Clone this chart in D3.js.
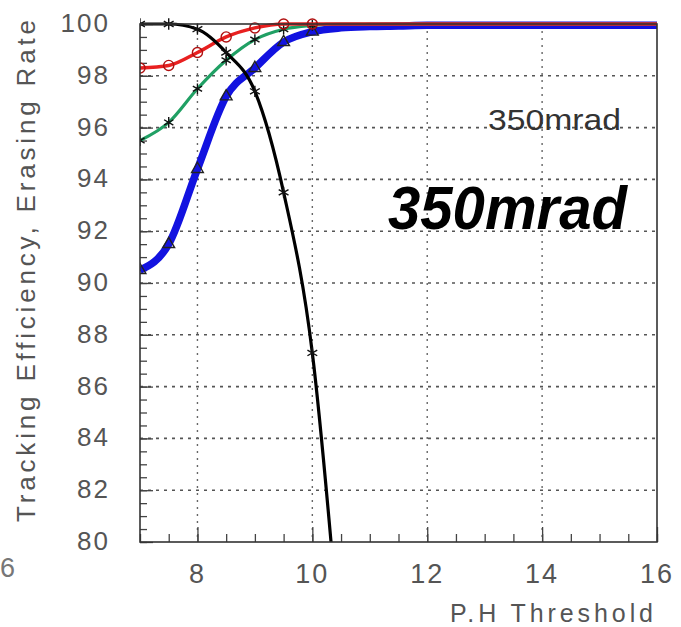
<!DOCTYPE html>
<html>
<head>
<meta charset="utf-8">
<script src="https://cdn.jsdelivr.net/npm/d3@7"></script>
<style>
  html, body { margin: 0; padding: 0; background: #fff; }
  svg { display: block; }
  text { font-family: "Liberation Sans", Arial, sans-serif; }
</style>
</head>
<body>
<svg id="chart" width="681" height="627"></svg>
<script>
// P.H threshold scan points
const thresholds = [7, 7.5, 8, 8.5, 9, 9.5, 10, 10.5, 11, 11.5, 12, 13, 14, 15, 16];
// tracking efficiency for the three settings (%)
const effRed   = [98.3, 98.4, 98.9, 99.5, 99.85, 100, 100, 100, 100, 100, 100, 100, 100, 100, 100];
const effGreen = [95.5, 96.2, 97.5, 98.6, 99.4, 99.8, 99.95, 100, 100, 100, 100, 100, 100, 100, 100];
const effBlue  = [90.5, 91.5, 94.4, 97.2, 98.3, 99.3, 99.7, 99.85, 99.9, 99.92, 99.95, 99.95, 99.95, 99.95, 99.95];
// erasing rate (%)
const eraseX   = [7, 7.5, 8, 8.5, 9, 9.5, 10, 10.5];
const eraseVal = [100, 100, 99.8, 98.9, 97.4, 93.5, 87.3, 75.5];

const xTicks = [8, 10, 12, 14, 16];
const yTicks = [80, 82, 84, 86, 88, 90, 92, 94, 96, 98, 100];
const xTitle = "P.H Threshold";
const yTitle = "Tracking Efficiency, Erasing Rate";
const note = "350mrad";

const svg = d3.select("#chart");
const L = 140, R = 657, T = 24, B = 542;
const markerMaxX = 10;   // markers beyond this sit under the 100% frame line

const x = d3.scaleLinear().domain([7, 16]).range([L, R]);
const y = d3.scaleLinear().domain([80, 100]).range([B, T]);

// dotted grid at major ticks
const grid = svg.append("g");
grid.selectAll("line.h").data(yTicks.filter(v => v > 80 && v < 100)).join("line")
  .attr("x1", L).attr("x2", R).attr("y1", d => y(d)).attr("y2", d => y(d))
  .attr("stroke", "#555").attr("stroke-width", 1.6).attr("stroke-dasharray", "3,5");
grid.selectAll("line.v").data(xTicks.filter(v => v < 16)).join("line")
  .attr("y1", T).attr("y2", B).attr("x1", d => x(d)).attr("x2", d => x(d))
  .attr("stroke", "#666").attr("stroke-width", 1.4).attr("stroke-dasharray", "2,5");

// axes with inward ticks (minor every 0.5)
const yMinor = d3.range(80, 100.01, 0.5);
const xMinor = d3.range(7, 16.01, 0.5);
svg.append("g").attr("transform", `translate(${L},0)`)
  .call(d3.axisRight(y).tickValues(yMinor).tickSize(7).tickFormat(""))
  .call(g => g.select(".domain").remove())
  .call(g => g.selectAll("line").attr("stroke", "#444").attr("stroke-width", 1.3));
svg.append("g").attr("transform", `translate(${L},0)`)
  .call(d3.axisRight(y).tickValues(yTicks).tickSize(13).tickFormat(""))
  .call(g => g.select(".domain").remove())
  .call(g => g.selectAll("line").attr("stroke", "#444").attr("stroke-width", 1.3));
svg.append("g").attr("transform", `translate(0,${B})`)
  .call(d3.axisTop(x).tickValues(xMinor).tickSize(8).tickFormat(""))
  .call(g => g.select(".domain").remove())
  .call(g => g.selectAll("line").attr("stroke", "#444").attr("stroke-width", 1.3));
svg.append("g").attr("transform", `translate(0,${B})`)
  .call(d3.axisTop(x).tickValues(xTicks).tickSize(15).tickFormat(""))
  .call(g => g.select(".domain").remove())
  .call(g => g.selectAll("line").attr("stroke", "#444").attr("stroke-width", 1.3));

// tick labels
svg.append("g").selectAll("text").data(yTicks).join("text")
  .attr("x", 110).attr("y", d => y(d) + 8)
  .attr("text-anchor", "end").attr("font-size", 26).attr("letter-spacing", 2)
  .attr("fill", "#555").text(d => d);
svg.append("g").selectAll("text").data(xTicks).join("text")
  .attr("x", d => x(d)).attr("y", 583)
  .attr("text-anchor", "middle").attr("font-size", 27).attr("letter-spacing", 2)
  .attr("fill", "#555").text(d => d);

// axis titles
svg.append("text").attr("x", 653).attr("y", 622).attr("text-anchor", "end")
  .attr("font-size", 25).attr("fill", "#555")
  .attr("textLength", 203).attr("lengthAdjust", "spacing").text(xTitle);
svg.append("text").attr("transform", "translate(35,271) rotate(-90)")
  .attr("text-anchor", "middle").attr("font-size", 26).attr("fill", "#555")
  .attr("textLength", 502).attr("lengthAdjust", "spacing").text(yTitle);

// neighbouring panel's edge label
svg.append("text").attr("x", 0).attr("y", 577).attr("text-anchor", "start")
  .attr("font-size", 27).attr("fill", "#777").text("6");

// curves
const plot = svg.append("g");
svg.append("clipPath").attr("id", "clip").append("rect")
  .attr("x", L).attr("y", T - 6).attr("width", R - L).attr("height", B - T + 6);
plot.attr("clip-path", "url(#clip)");

const line = d3.line().x(d => x(d[0])).y(d => y(d[1])).curve(d3.curveMonotoneX);
const pairs = (xs, ys) => xs.map((v, i) => [v, ys[i]]);

const series = [
  { pts: pairs(thresholds, effBlue),  color: "#1212e0", width: 7.5, sym: d3.symbolTriangle, size: 60, mcol: "#222" },
  { pts: pairs(thresholds, effGreen), color: "#20a064", width: 3.2, sym: d3.symbolAsterisk, size: 80, mcol: "#111" },
  { pts: pairs(thresholds, effRed),   color: "#e82020", width: 3.5, sym: d3.symbolCircle,   size: 80, mcol: "#b01010" },
  { pts: pairs(eraseX, eraseVal),     color: "#000",    width: 3.2, sym: d3.symbolAsterisk, size: 90, mcol: "#111" }
];

series.forEach(s => {
  plot.append("path").datum(s.pts)
    .attr("fill", "none").attr("stroke", s.color).attr("stroke-width", s.width)
    .attr("stroke-linejoin", "round").attr("d", line);
  plot.append("g").selectAll("path")
    .data(s.pts.filter(d => d[1] >= 80 && d[0] <= markerMaxX)).join("path")
    .attr("transform", d => `translate(${x(d[0])},${y(d[1])})`)
    .attr("d", d3.symbol().type(s.sym).size(s.size))
    .attr("fill", "none").attr("stroke", s.mcol).attr("stroke-width", 1.4);
});

// frame
svg.append("rect").attr("x", L).attr("y", T).attr("width", R - L).attr("height", B - T)
  .attr("fill", "none").attr("stroke", "#333").attr("stroke-width", 1.6);

// annotations
svg.append("text").attr("x", 488).attr("y", 130).attr("font-size", 29)
  .attr("fill", "#333").attr("textLength", 133).attr("lengthAdjust", "spacingAndGlyphs")
  .text(note);
svg.append("text").attr("x", 388).attr("y", 229).attr("font-size", 62)
  .attr("font-weight", "bold").attr("font-style", "italic")
  .attr("font-family", "'DejaVu Sans', sans-serif")
  .attr("fill", "#000").attr("textLength", 239).attr("lengthAdjust", "spacingAndGlyphs")
  .text(note);
</script>
</body>
</html>
